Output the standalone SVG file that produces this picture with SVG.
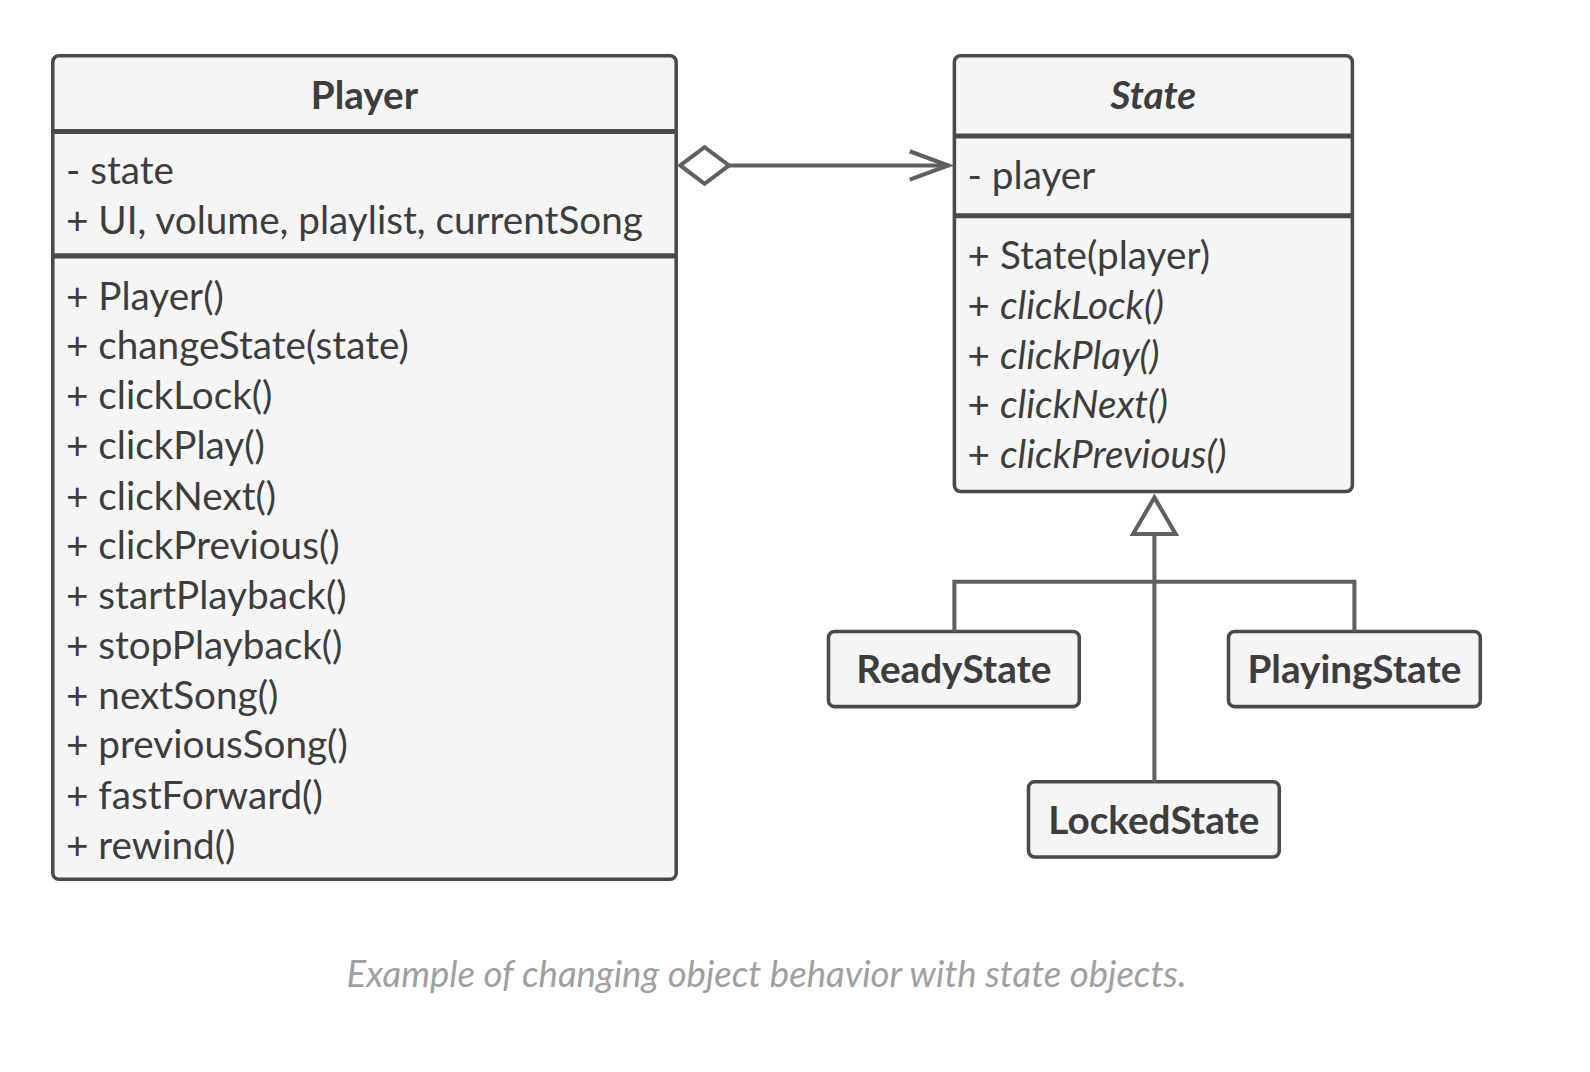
<svg xmlns="http://www.w3.org/2000/svg" width="1590" height="1072" viewBox="0 0 1590 1072">
<defs>
<style>
.box{fill:#f5f5f5;stroke:#4a4a4a;stroke-width:3.5}
.div{stroke:#4a4a4a;stroke-width:5}
.t{font-family:Lato,"Noto Sans",sans-serif;font-size:38.1px;fill:#3d3d3d}
.b{font-weight:bold;text-anchor:middle}
.i{font-style:italic}
.conn{fill:none;stroke:#606060;stroke-width:4}
.cap{font-family:Lato,"Noto Sans",sans-serif;font-size:36px;font-style:italic;fill:#a0a0a0;text-anchor:middle}
</style>
</defs>
<g transform="scale(1.0153)">
<g id="Player">
<rect class="box" x="52" y="55" width="614" height="811" rx="6"/>
<line class="div" x1="52" y1="129.5" x2="666" y2="129.5"/>
<line class="div" x1="52" y1="252" x2="666" y2="252"/>
<text class="t b" x="359" y="107">Player</text>
<text class="t" x="65" y="181">- state</text>
<text class="t" x="65" y="230">+ UI, volume, playlist, currentSong</text>
<text class="t" x="65" y="305">+ Player()</text>
<text class="t" x="65" y="354">+ changeState(state)</text>
<text class="t" x="65" y="403">+ clickLock()</text>
<text class="t" x="65" y="452">+ clickPlay()</text>
<text class="t" x="65" y="502">+ clickNext()</text>
<text class="t" x="65" y="551">+ clickPrevious()</text>
<text class="t" x="65" y="600">+ startPlayback()</text>
<text class="t" x="65" y="649">+ stopPlayback()</text>
<text class="t" x="65" y="698">+ nextSong()</text>
<text class="t" x="65" y="747">+ previousSong()</text>
<text class="t" x="65" y="797">+ fastForward()</text>
<text class="t" x="65" y="846">+ rewind()</text>
</g>
<g id="State">
<rect class="box" x="940" y="55" width="392" height="429" rx="6"/>
<line class="div" x1="940" y1="134" x2="1332" y2="134"/>
<line class="div" x1="940" y1="212.5" x2="1332" y2="212.5"/>
<text class="t b i" x="1136" y="107">State</text>
<text class="t" x="953" y="186">- player</text>
<text class="t" x="953" y="265">+ State(player)</text>
<text class="t" x="953" y="314">+ <tspan class="i">clickLock()</tspan></text>
<text class="t" x="953" y="363">+ <tspan class="i">clickPlay()</tspan></text>
<text class="t" x="953" y="412">+ <tspan class="i">clickNext()</tspan></text>
<text class="t" x="953" y="461">+ <tspan class="i">clickPrevious()</tspan></text>
</g>
<g id="ReadyState">
<rect class="box" x="816" y="622" width="247" height="74" rx="6"/>
<text class="t b" x="939.5" y="673">ReadyState</text>
</g>
<g id="PlayingState">
<rect class="box" x="1210" y="622" width="248" height="74" rx="6"/>
<text class="t b" x="1334" y="673">PlayingState</text>
</g>
<g id="LockedState">
<rect class="box" x="1013" y="770" width="247" height="74" rx="6"/>
<text class="t b" x="1136.5" y="821">LockedState</text>
</g>
<g id="connectors">
<polygon class="conn" points="670,163 694,145 718,163 694,181" style="fill:#fff"/>
<line class="conn" x1="718" y1="163" x2="934" y2="163"/>
<polyline class="conn" points="896,149 934,163 896,177"/>
<polygon class="conn" points="1137,490 1158,526 1116,526" style="fill:#fff"/>
<line class="conn" x1="1137" y1="526" x2="1137" y2="770"/>
<polyline class="conn" points="940,622 940,573 1334,573 1334,622"/>
</g>
<text class="cap" x="755" y="972">Example of changing object behavior with state objects.</text>
</g>
</svg>
